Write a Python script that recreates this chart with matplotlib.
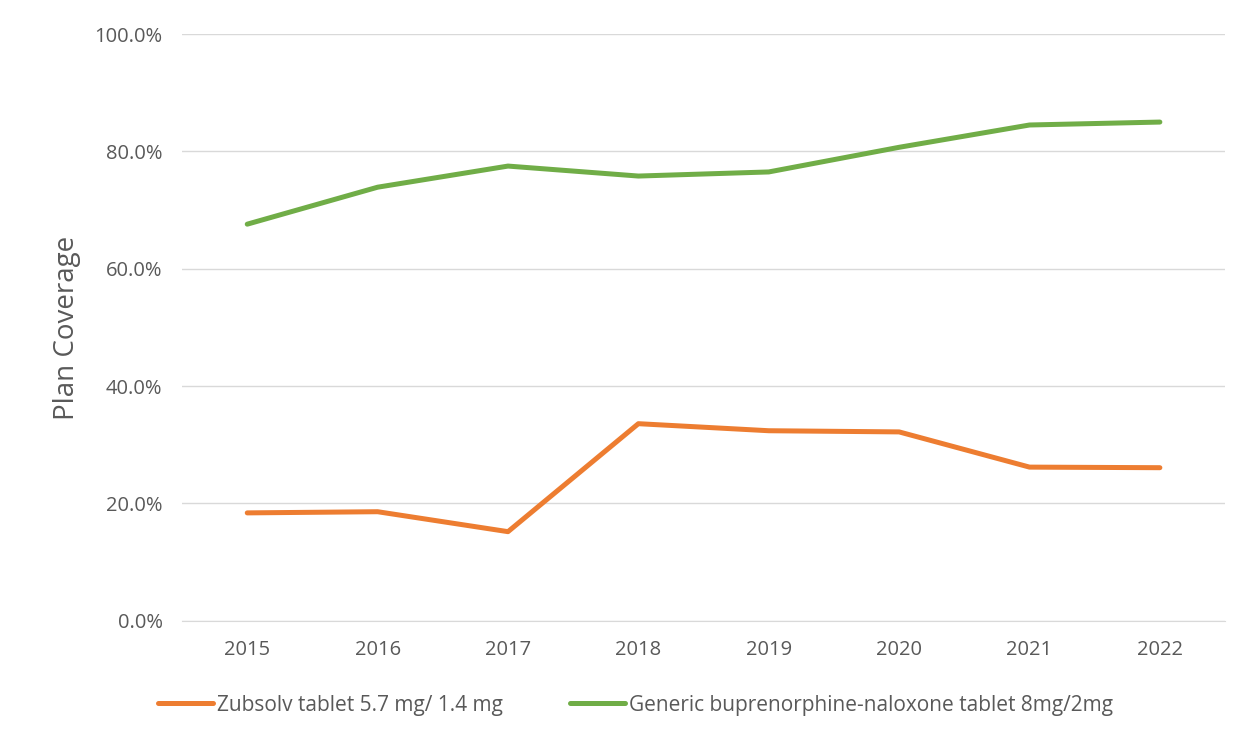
import numpy as np
import matplotlib.pyplot as plt
from matplotlib.ticker import FuncFormatter

years = ["2015", "2016", "2017", "2018", "2019", "2020", "2021", "2022"]
zubsolv = [18.4, 18.6, 15.2, 33.6, 32.4, 32.2, 26.2, 26.1]
generic = [67.6, 73.9, 77.5, 75.8, 76.5, 80.7, 84.5, 85.0]
labels = ["Zubsolv tablet 5.7 mg/ 1.4 mg",
          "Generic buprenorphine-naloxone tablet 8mg/2mg"]

plt.rcParams['font.family'] = ['Open Sans', 'DejaVu Sans']
grey = "#595959"

fig = plt.figure(figsize=(12.53, 7.40), dpi=100)
ax = fig.add_axes([0.1453, 0.161, 0.8324, 0.793])

x = np.arange(len(years))
ax.plot(x, zubsolv, color="#ED7D31", lw=3.6, label=labels[0], solid_capstyle="round")
ax.plot(x, generic, color="#70AD47", lw=3.6, label=labels[1], solid_capstyle="round")

ax.set_xlim(-0.5, len(years) - 0.5)
ax.set_ylim(0, 100)
ax.set_yticks(np.arange(0, 101, 20))
ax.yaxis.set_major_formatter(FuncFormatter(lambda v, p: f"{v:.1f}%"))
ax.set_xticks(x)
ax.set_xticklabels(years)
ax.grid(axis="y", color="#D9D9D9", lw=1)
ax.set_axisbelow(True)
for s in ["top", "right", "left"]:
    ax.spines[s].set_visible(False)
ax.spines["bottom"].set_color("#D9D9D9")
ax.tick_params(length=0, labelsize=14.5, colors=grey)
ax.tick_params(axis="x", pad=14)
ax.tick_params(axis="y", pad=14)
ax.set_ylabel("Plan Coverage", fontsize=20, color=grey, labelpad=10)

fig.legend(loc="center", bbox_to_anchor=(0.507, 0.047), ncol=2, frameon=False,
           fontsize=15, labelcolor=grey, handlelength=2.65, handletextpad=0.2,
           columnspacing=3.2)

fig.savefig("out.png", dpi=100)
